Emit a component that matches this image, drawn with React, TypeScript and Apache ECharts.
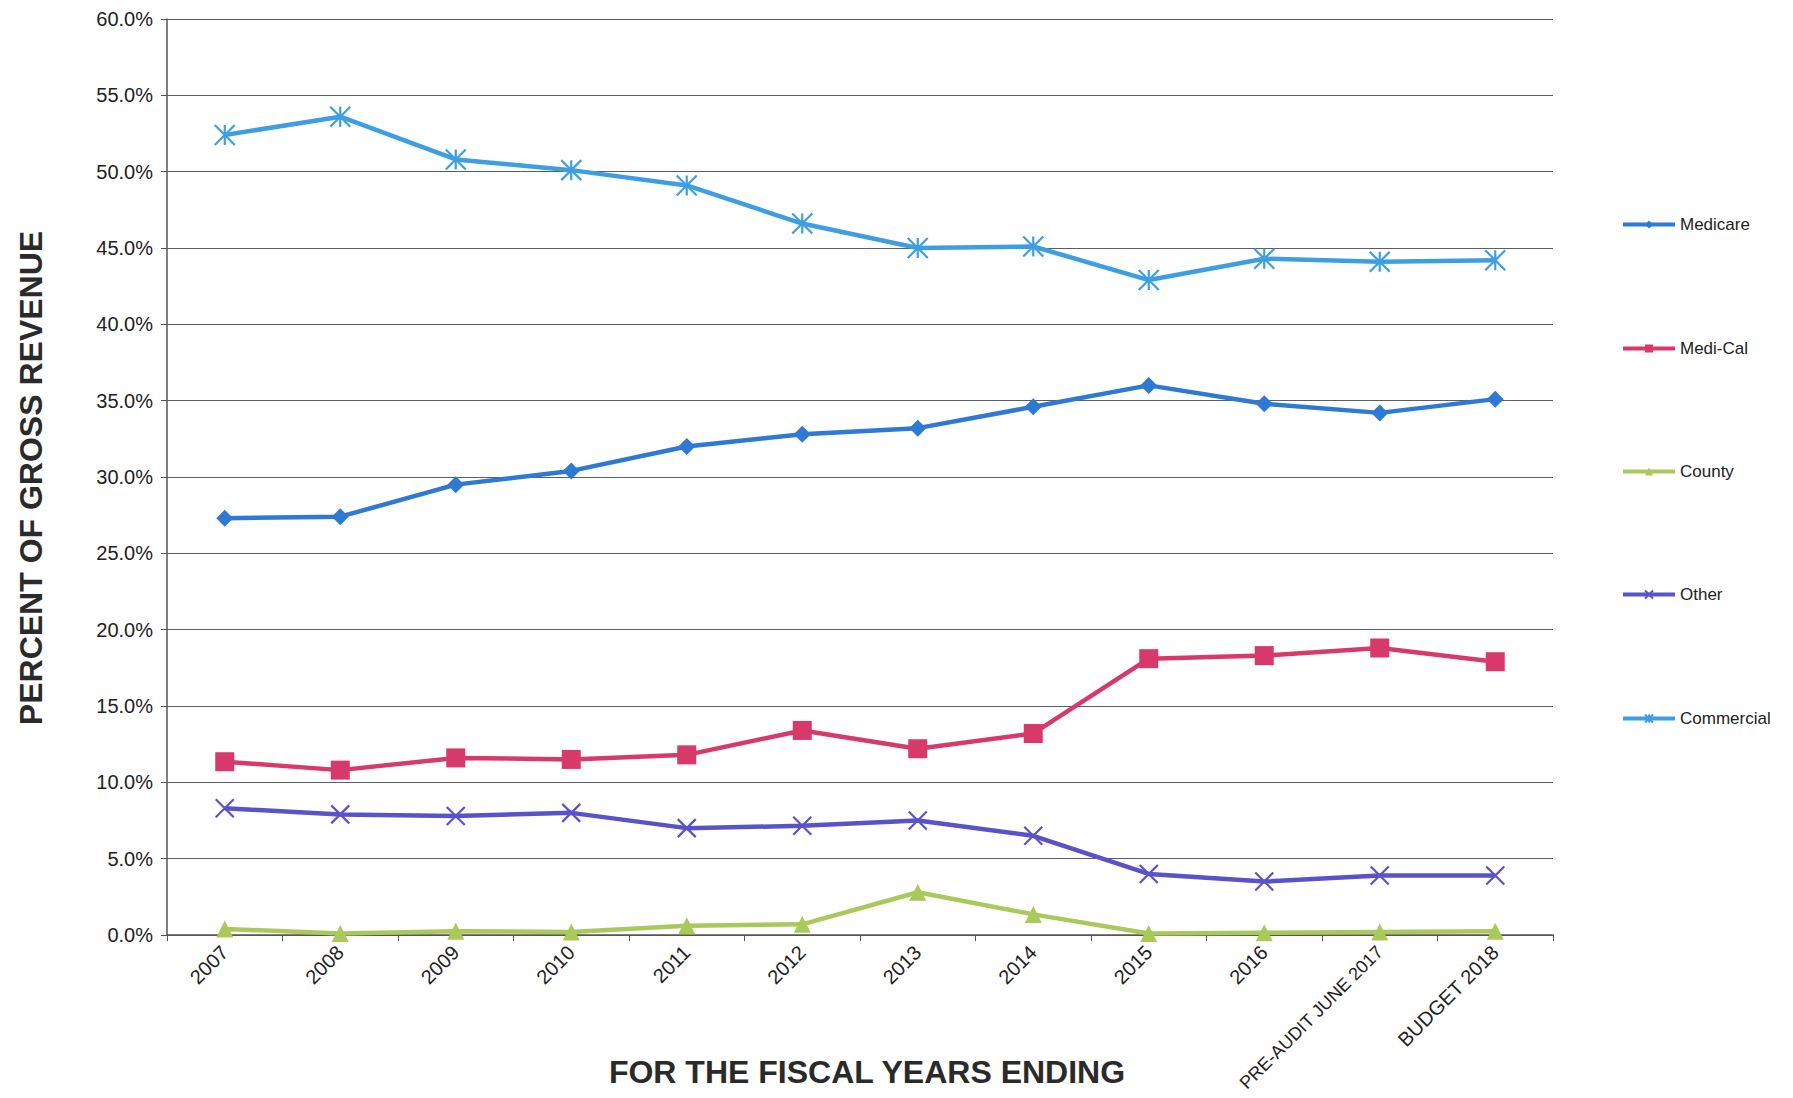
import React, { useEffect, useRef } from "react";
import * as echarts from "echarts";

const categories = ["2007", "2008", "2009", "2010", "2011", "2012", "2013", "2014", "2015", "2016", "PRE-AUDIT JUNE 2017", "BUDGET 2018"];
const medicare = [27.3, 27.4, 29.5, 30.4, 32.0, 32.8, 33.2, 34.6, 36.0, 34.8, 34.2, 35.1];
const mediCal = [11.35, 10.8, 11.6, 11.5, 11.8, 13.4, 12.2, 13.2, 18.1, 18.3, 18.8, 17.9];
const county = [0.4, 0.1, 0.25, 0.2, 0.6, 0.7, 2.8, 1.35, 0.1, 0.15, 0.2, 0.25];
const other = [8.3, 7.9, 7.8, 8.0, 7.0, 7.15, 7.5, 6.5, 4.0, 3.5, 3.9, 3.9];
const commercial = [52.4, 53.6, 50.8, 50.1, 49.1, 46.6, 45.0, 45.1, 42.9, 44.3, 44.1, 44.2];
const yTicks = [0, 5, 10, 15, 20, 25, 30, 35, 40, 45, 50, 55, 60];

const FONT = "Liberation Sans, Arial, sans-serif";
const X_PATH = "path://M0,0L20,20M20,0L0,20";
const STAR_PATH = "path://M0,0L20,20M20,0L0,20M10,0L10,20";

export default function App() {
  const ref = useRef<HTMLDivElement>(null);
  useEffect(() => {
    if (!ref.current) return;
    const chart = echarts.init(ref.current, null, { renderer: "svg" });
    const seriesDefs = [
      { name: "Medicare", data: medicare, color: "#2E79D3", symbol: "diamond", size: 17, stroke: false },
      { name: "Medi-Cal", data: mediCal, color: "#D8396B", symbol: "rect", size: 19, stroke: false },
      { name: "County", data: county, color: "#A9C95A", symbol: "triangle", size: 17, stroke: false },
      { name: "Other", data: other, color: "#5A52C8", symbol: X_PATH, size: 18, stroke: true },
      { name: "Commercial", data: commercial, color: "#3D9FE2", symbol: STAR_PATH, size: 20, stroke: true },
    ];
    const legendCenters = [225, 349, 472, 595, 719];
    chart.setOption({
      animation: false,
      backgroundColor: "#ffffff",
      textStyle: { fontFamily: FONT },
      grid: { left: 159, top: 11, right: 232, bottom: 163, outerBoundsMode: "none", containLabel: false },
      legend: seriesDefs.map((s, i) => ({
        data: [s.name],
        orient: "vertical",
        left: 1608,
        top: legendCenters[i] - 8 - 5 - 9,
        itemWidth: 52,
        itemHeight: 10,
        itemGap: 0,
        lineStyle: { width: 4 },
        textStyle: { fontSize: 17, color: "#222", fontFamily: FONT },
      })),
      xAxis: {
        type: "category",
        data: categories,
        boundaryGap: true,
        axisLine: { lineStyle: { color: "#555", width: 1.5 } },
        axisTick: { show: true, alignWithLabel: false, length: 6, lineStyle: { color: "#555" } },
        axisLabel: {
          rotate: 45,
          fontSize: 20,
          color: "#222",
          margin: 14,
          interval: 0,
          fontFamily: FONT,
          formatter: (v: string) => (v.length > 14 ? "{s|" + v + "}" : v),
          rich: { s: { fontSize: 18, color: "#222", fontFamily: FONT } },
        },
      },
      yAxis: {
        type: "value",
        min: 0,
        max: 60,
        interval: 5,
        axisLine: { show: true, lineStyle: { color: "#555", width: 1.5 } },
        axisTick: { show: true, length: 6, lineStyle: { color: "#555" } },
        axisLabel: {
          fontSize: 20,
          color: "#222",
          margin: 14,
          fontFamily: FONT,
          formatter: (v: number) => (yTicks.includes(v) ? v.toFixed(1) + "%" : ""),
        },
        splitLine: { show: true, lineStyle: { color: "#5c5c66", width: 1.2 } },
      },
      graphic: [
        {
          type: "text",
          x: 23,
          y: 470,
          rotation: Math.PI / 2,
          style: {
            text: "PERCENT OF GROSS REVENUE",
            font: "bold 32px Liberation Sans, Arial, sans-serif",
            fill: "#2a2a2a",
            align: "center",
            verticalAlign: "middle",
          },
        },
        {
          type: "text",
          x: 859,
          y: 1064,
          style: {
            text: "FOR THE FISCAL YEARS ENDING",
            font: "bold 32px Liberation Sans, Arial, sans-serif",
            fill: "#2a2a2a",
            align: "center",
            verticalAlign: "middle",
          },
        },
      ],
      series: seriesDefs.map((s) => ({
        name: s.name,
        type: "line",
        data: s.data,
        symbol: s.symbol,
        symbolSize: s.size,
        showSymbol: true,
        lineStyle: { color: s.color, width: 4.5 },
        itemStyle: s.stroke
          ? { color: s.color, borderColor: s.color, borderWidth: 2.2 }
          : { color: s.color, borderWidth: 0 },
        z: 3,
      })),
    });
    return () => chart.dispose();
  }, []);
  return <div ref={ref} style={{ width: 1777, height: 1090 }} />;
}
